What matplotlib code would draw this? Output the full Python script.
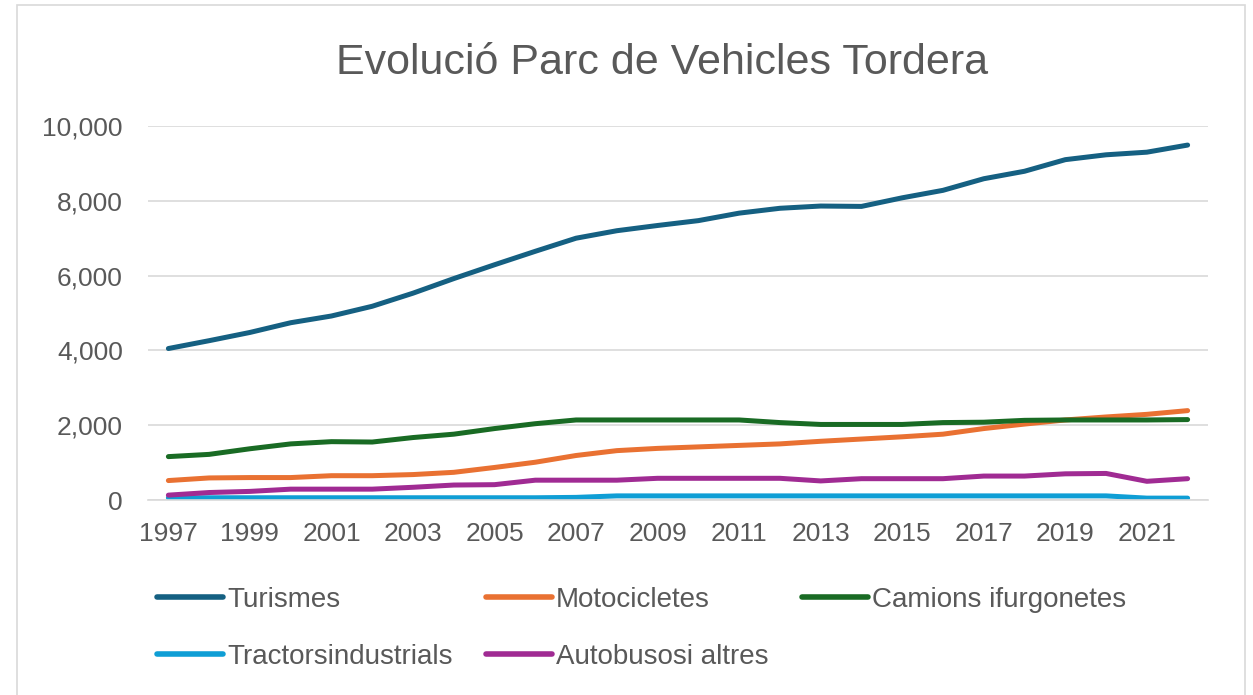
import matplotlib.pyplot as plt
from matplotlib.patches import Rectangle

years = list(range(1997, 2023))

turismes = [4050, 4260, 4480, 4740, 4920, 5180, 5530, 5920, 6290, 6650, 7000,
            7200, 7340, 7470, 7670, 7800, 7860, 7850, 8080, 8280, 8590, 8790,
            9100, 9230, 9300, 9490]
motocicletes = [520, 590, 600, 600, 650, 650, 680, 740, 870, 1010, 1190,
                1320, 1380, 1420, 1460, 1500, 1570, 1630, 1690, 1760, 1910,
                2030, 2140, 2220, 2290, 2390]
camions = [1160, 1220, 1370, 1500, 1560, 1550, 1670, 1760, 1910, 2040, 2140,
           2140, 2140, 2140, 2140, 2070, 2020, 2020, 2020, 2070, 2080, 2130,
           2140, 2140, 2140, 2150]
tractors = [60, 60, 60, 60, 60, 60, 60, 60, 60, 60, 70,
            110, 110, 110, 110, 110, 110, 110, 110, 110, 110, 110,
            110, 110, 50, 50]
autobusos = [130, 200, 230, 290, 290, 290, 340, 400, 410, 530, 530,
             530, 580, 580, 580, 580, 510, 570, 570, 570, 640, 640,
             700, 710, 500, 570]

noms = ['Turismes', 'Motocicletes', 'Camions ifurgonetes',
        'Tractorsindustrials', 'Autobusosi altres']
colors = ['#156082', '#E97132', '#196B24', '#0F9ED5', '#A02B93']
series = [turismes, motocicletes, camions, tractors, autobusos]

plt.rcParams['font.family'] = ['Liberation Sans', 'DejaVu Sans']
gris = '#595959'

W, H = 1253, 695
fig = plt.figure(figsize=(W / 100, H / 100), dpi=100)
fig.patches.append(Rectangle((17 / W, -0.1), (1245 - 17) / W, 1.1 - 5 / H,
                             transform=fig.transFigure, fill=False,
                             edgecolor='#D9D9D9', lw=1.2))

ax = fig.add_axes([148 / W, 1 - 500 / H, 1060 / W, 374 / H])
x = range(len(years))
lines = []
for nom, c, s in zip(noms, colors, series):
    ln, = ax.plot(x, s, color=c, lw=3.6, label=nom, solid_capstyle='round',
                  solid_joinstyle='round')
    lines.append(ln)

ax.set_xlim(-0.5, len(years) - 0.5)
ax.set_ylim(0, 10000)
ax.set_yticks(range(0, 10001, 2000))
ax.set_yticklabels(['{:,}'.format(v) for v in range(0, 10001, 2000)])
ax.set_xticks(list(x)[::2])
ax.set_xticklabels([str(y) for y in years[::2]])
ax.tick_params(axis='both', length=0, labelsize=19, labelcolor=gris)
ax.tick_params(axis='y', pad=18)
ax.tick_params(axis='x', pad=16)
ax.grid(axis='y', color='#D9D9D9', lw=1.2)
ax.set_axisbelow(True)
for sp in ['top', 'right', 'left']:
    ax.spines[sp].set_visible(False)
ax.spines['bottom'].set_color('#D9D9D9')
ax.spines['bottom'].set_linewidth(1.2)

fig.text(662 / W, 1 - 74 / H, 'Evolució Parc de Vehicles Tordera',
         ha='center', va='baseline', fontsize=31, color=gris)

order = [0, 3, 1, 4, 2]
leg = fig.legend([lines[i] for i in order], [noms[i] for i in order],
                 ncol=3, loc='upper left',
                 bbox_to_anchor=(157 / W, 1 - 587 / H),
                 frameon=False, borderpad=0, borderaxespad=0,
                 handlelength=2.37, handletextpad=0.15, columnspacing=1.2,
                 labelspacing=1.12, fontsize=20)
for t in leg.get_texts():
    t.set_color(gris)
for h in leg.legend_handles:
    h.set_linewidth(4)

fig.savefig('out.png', dpi=100)
